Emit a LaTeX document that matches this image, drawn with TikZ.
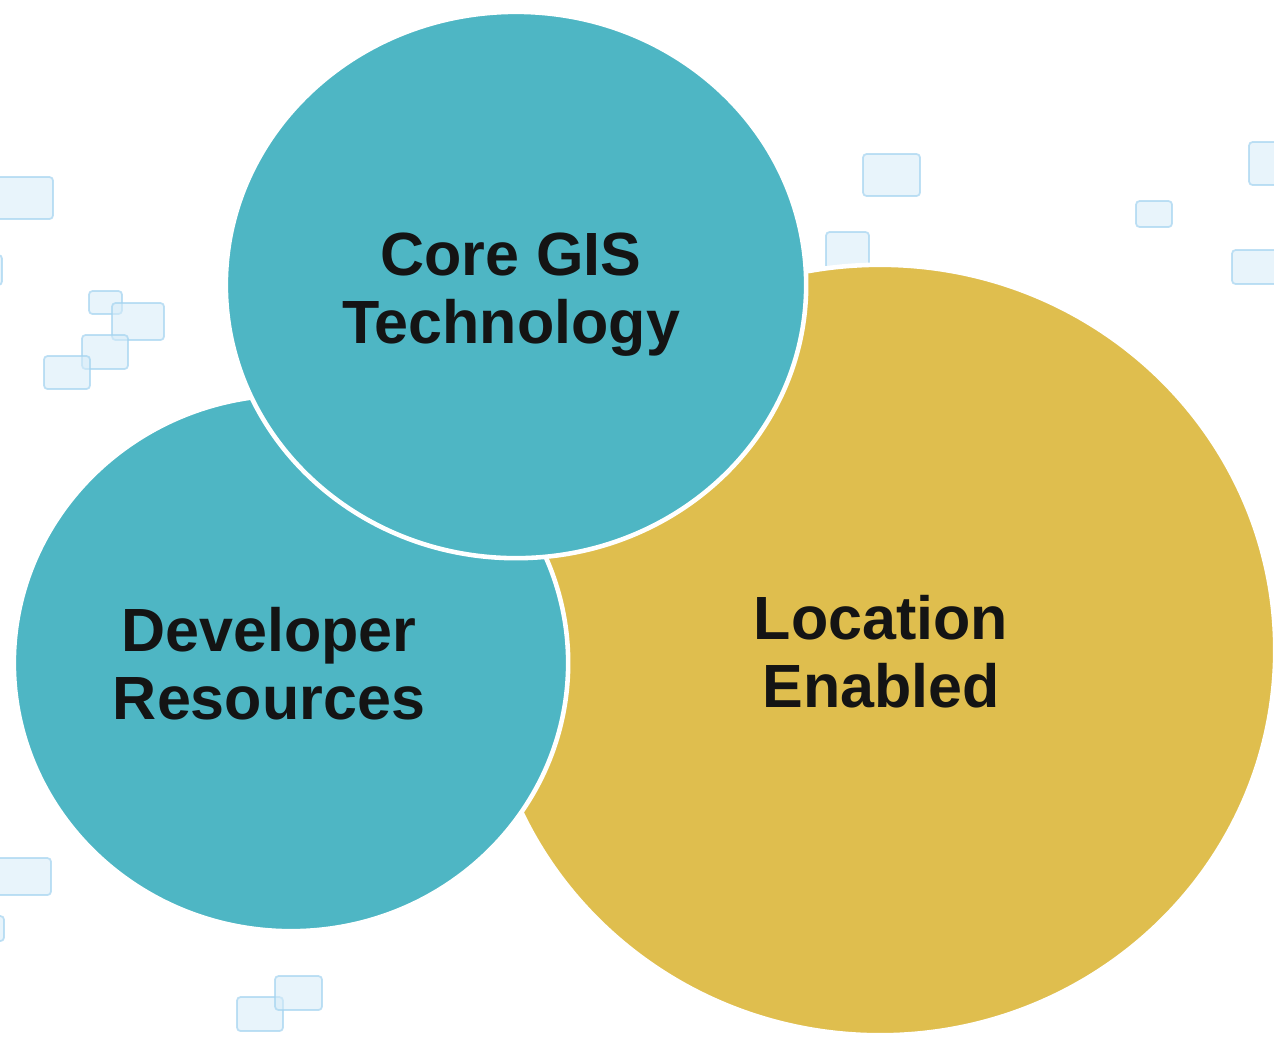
\documentclass[tikz,border=0pt]{standalone}
\usepackage{fontspec}
\setmainfont{Liberation Sans}
\usetikzlibrary{shapes.geometric}
\definecolor{gis}{RGB}{78,182,196}
\definecolor{location}{RGB}{223,190,78}
\definecolor{tilefill}{RGB}{214,236,249}
\definecolor{tileedge}{RGB}{165,212,240}
\definecolor{ink}{RGB}{20,20,20}
\tikzstyle{bubble}=[ellipse, draw=white, line width=1.3pt, inner sep=0pt]
\tikzset{tile/.style={fill=tilefill, draw=tileedge, fill opacity=.55, draw opacity=.7, line width=.5pt, rounded corners=1pt}}
\tikzset{words/.style={text=ink, align=center, font=\fontsize{17.35}{19.3}\selectfont\bfseries}}

\begin{document}
\begin{tikzpicture}[x=0.01cm,y=-0.01cm]
  \useasboundingbox (0,0) rectangle (1274,1038);
  \clip (0,0) rectangle (1274,1038);
  \fill[white] (0,0) rectangle (1274,1038);

  %% Background tiles
  \draw[tile] (-5,177) rectangle (53,219);
  \draw[tile] (-10,255) rectangle (2,285);
  \draw[tile] (89,291) rectangle (122,314);
  \draw[tile] (112,303) rectangle (164,340);
  \draw[tile] (82,335) rectangle (128,369);
  \draw[tile] (44,356) rectangle (90,389);
  \draw[tile] (863,154) rectangle (920,196);
  \draw[tile] (826,232) rectangle (869,270);
  \draw[tile] (1136,201) rectangle (1172,227);
  \draw[tile] (1249,142) rectangle (1290,185);
  \draw[tile] (1232,250) rectangle (1290,284);
  \draw[tile] (-5,858) rectangle (51,895);
  \draw[tile] (-10,916) rectangle (4,941);
  \draw[tile] (237,997) rectangle (283,1031);
  \draw[tile] (275,976) rectangle (322,1010);

  %% Circles
  \draw (880,650) node[bubble, fill=location, minimum width=7.9cm, minimum height=7.7cm] (L) {};
  \draw (291,663) node[bubble, fill=gis, minimum width=5.54cm, minimum height=5.36cm] (D) {};
  \draw (516,285) node[bubble, fill=gis, minimum width=5.8cm, minimum height=5.46cm] (C) {};

  %% Labels
  \draw (511,295) node[words] (Ctext) {Core GIS\\Technology};
  \draw (269,664) node[words] (Dtext) {Developer\\Resources};
  \draw (881,652) node[words] (Ltext) {Location\\Enabled};
\end{tikzpicture}
\end{document}
